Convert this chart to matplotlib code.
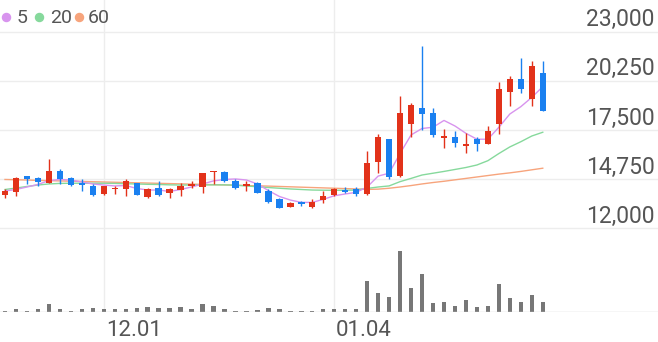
import matplotlib
matplotlib.use('Agg')
import matplotlib.pyplot as plt
from matplotlib.lines import Line2D
import numpy as np

plt.rcParams['font.family'] = ['Roboto', 'DejaVu Sans']

# daily candles (KRW)
opens = [13870, 14020, 14940, 14820, 14570, 15210, 14800, 14530, 14380, 13930,
         14190, 14220, 14520, 13780, 14280, 13960, 14150, 14380, 14340, 15140,
         15180, 14650, 14380, 14560, 14070, 13630, 13220, 13460, 13190, 13590,
         13870, 14150, 14210, 13930, 15730, 16990, 14930, 17820, 18720, 18440,
         17080, 17100, 16610, 17000, 16720, 17840, 19610, 20360, 19240, 20680]
highs = [14190, 14900, 14960, 14900, 15860, 15330, 14880, 14770, 14470, 14400,
         14360, 14740, 14570, 14260, 14650, 14250, 14530, 14650, 15100, 15230,
         15220, 14770, 14650, 14620, 14190, 13720, 13500, 13550, 13630, 14100,
         14250, 14340, 14340, 16330, 17270, 17000, 19410, 19000, 22200, 18720,
         17560, 17450, 17350, 17100, 17730, 20210, 20520, 21550, 21360, 21360]
lows = [13700, 13820, 14470, 14390, 14530, 14490, 14390, 14100, 13830, 13900,
        13910, 13820, 13860, 13730, 13830, 13730, 13830, 14260, 13970, 14480,
        14600, 14210, 14110, 13960, 13410, 13130, 13200, 13270, 13170, 13410,
        13820, 13970, 13800, 13900, 15120, 14750, 14900, 17130, 17510, 17130,
        16480, 16570, 16240, 16330, 16700, 17280, 18870, 19560, 18870, 18570]
closes = [14110, 14820, 14750, 14620, 15210, 14770, 14430, 14430, 13870, 14380,
          14290, 14660, 13870, 14190, 13870, 14180, 14390, 14510, 15090, 15210,
          14660, 14250, 14470, 14000, 13460, 13160, 13440, 13350, 13500, 13830,
          14210, 14020, 13930, 15660, 17130, 14900, 18440, 18900, 18400, 17230,
          17190, 16760, 16710, 16710, 17470, 19780, 20360, 19800, 21100, 18570]

# moving averages as drawn on the chart
ma5 = [14100, 14180, 14320, 14460, 14680, 14740, 14710, 14600, 14490, 14430,
       14380, 14400, 14240, 14150, 14150, 14070, 14180, 14320, 14490, 14660,
       14740, 14770, 14710, 14490, 14120, 13790, 13590, 13460, 13460, 13630,
       13830, 13930, 14020, 14320, 14930, 15090, 16200, 17230, 17590, 17660,
       18040, 17730, 17320, 16990, 16990, 17660, 18400, 18810, 19330, 19930]
ma20 = [14180, 14260, 14350, 14430, 14490, 14520, 14530, 14530, 14530, 14530,
        14520, 14500, 14490, 14470, 14460, 14440, 14430, 14430, 14430, 14440,
        14440, 14420, 14380, 14330, 14290, 14250, 14210, 14180, 14150, 14140,
        14135, 14135, 14150, 14240, 14320, 14380, 14620, 14800, 14990, 15090,
        15190, 15300, 15410, 15550, 15790, 16190, 16560, 16850, 17170, 17380]
ma60 = [14740, 14725, 14710, 14690, 14675, 14660, 14645, 14630, 14615, 14600,
        14585, 14570, 14555, 14540, 14525, 14510, 14495, 14480, 14465, 14450,
        14435, 14420, 14400, 14385, 14370, 14350, 14330, 14310, 14290, 14270,
        14250, 14230, 14210, 14185, 14200, 14250, 14320, 14400, 14490, 14570,
        14640, 14720, 14800, 14880, 14960, 15040, 15110, 15190, 15280, 15370]

# volume (thousand shares)
volumes = [33, 75, 33, 75, 218, 75, 33, 75, 108, 75,
           75, 75, 100, 133, 100, 100, 133, 75, 218, 150,
           83, 33, 33, 58, 100, 83, 33, 33, 33, 75,
           75, 83, 75, 783, 490, 390, 1533, 600, 958, 240,
           250, 158, 308, 133, 158, 708, 358, 258, 425, 258]

price_ticks = [12000, 14750, 17500, 20250, 23000]
date_pos = [9, 30]
date_labels = ['12.01', '01.04']

ma_labels = ['5', '20', '60']
ma_colors = ['#d894ee', '#86d99c', '#f7a47c']

UP = '#e2321a'
DOWN = '#1a80f0'
GRID = '#ededed'
TEXT = '#555555'

W, H = 658, 342
fig = plt.figure(figsize=(W / 100, H / 100), dpi=100)
ax = fig.add_axes([0, (H - 232) / H, 1, 232 / H])
vax = fig.add_axes([0, (H - 312.3) / H, 1, 80.3 / H])

x = np.arange(len(closes))
o = np.array(opens)
c = np.array(closes)
colors = [UP if cc >= oo else DOWN for oo, cc in zip(opens, closes)]

for a in (ax, vax):
    a.set_xlim(-0.456, 59.5)
    a.axis('off')
    for p in date_pos:
        a.axvline(p, color=GRID, lw=1, zorder=0)

ax.set_ylim(11804, 24773)
for t in price_ticks:
    ax.axhline(t, color=GRID, lw=1, zorder=0)
    ax.annotate(f'{t:,}', xy=(1, t), xycoords=('axes fraction', 'data'),
                xytext=(-2.5, 4), textcoords='offset points',
                ha='right', va='baseline', fontsize=16.5, color=TEXT)

ax.plot(x, ma60, color=ma_colors[2], lw=1.0, zorder=2)
ax.plot(x, ma20, color=ma_colors[1], lw=1.0, zorder=2)
ax.plot(x, ma5, color=ma_colors[0], lw=1.0, zorder=2)

ax.vlines(x, lows, highs, colors=colors, lw=1.0, zorder=3)
ax.bar(x, np.abs(c - o), bottom=np.minimum(o, c), width=0.58,
       color=colors, zorder=4)

vax.set_ylim(0, 2008)
vax.bar(x, volumes, width=0.4, color='#777777', zorder=2)
vax.axhline(0, color='#d6d6d6', lw=1, zorder=3)

for p, lab in zip(date_pos, date_labels):
    xp = (p + 0.456) / 59.956 + 2 / W
    fig.text(xp, 1 - 336.5 / H, lab, ha='left', va='baseline',
             fontsize=16, color=TEXT)

# legend
leg_dot_x = [6, 39.3, 79]
leg_txt_x = [17, 50, 88]
for dx, tx, lab, col in zip(leg_dot_x, leg_txt_x, ma_labels, ma_colors):
    fig.add_artist(Line2D([dx / W], [1 - 17 / H], marker='o', markersize=5.8,
                          color=col, lw=0, transform=fig.transFigure))
    fig.text(tx / W, 1 - 23 / H, lab, ha='left', va='baseline',
             fontsize=14, color=TEXT)

fig.savefig('out.png', dpi=100)
